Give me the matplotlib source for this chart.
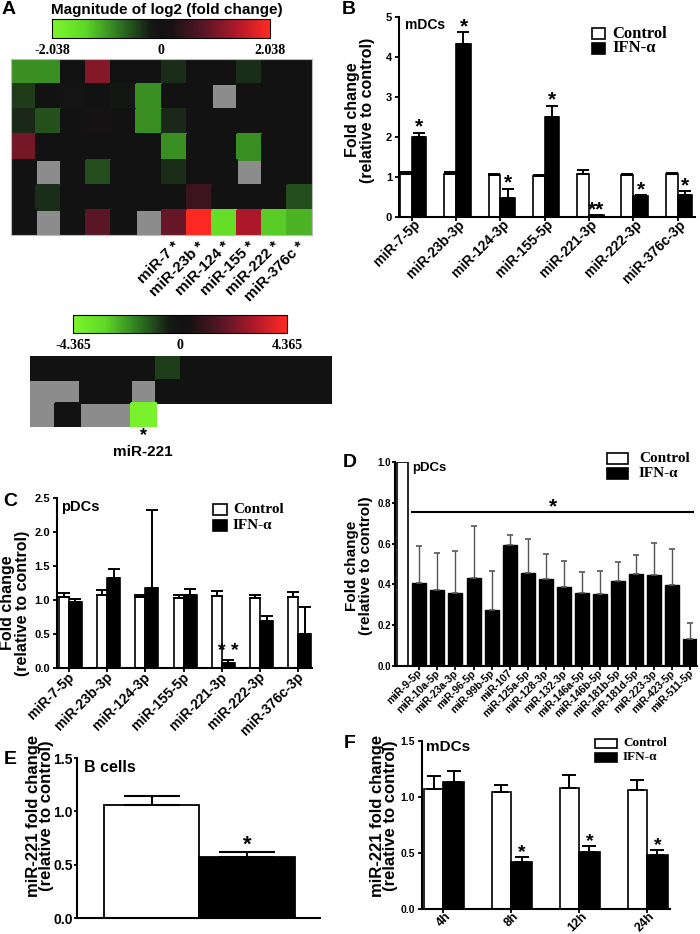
import numpy as np
import matplotlib
matplotlib.use('Agg')
import matplotlib.pyplot as plt
from matplotlib.colors import LinearSegmentedColormap, ListedColormap, Normalize
from matplotlib.cm import ScalarMappable
from matplotlib.patches import Rectangle
from matplotlib.transforms import ScaledTranslation

plt.rcParams['font.family'] = 'Liberation Sans'
plt.rcParams['font.weight'] = 'bold'
plt.rcParams['axes.linewidth'] = 1.5

W, H = 700, 934
nan = np.nan

# ---- panel A: heatmaps of log2 fold change (nan = no data, grey cell) ----
heat_mdc = [
    [-0.94, -0.94, 0.0, 1.1, 0.0, 0.0, -0.33, 0.0, 0.0, -0.33, 0.0, 0.0],
    [-0.4, 0.0, -0.05, 0.0, -0.1, -0.94, 0.0, 0.0, nan, 0.0, 0.0, 0.0],
    [-0.3, -0.55, 0.0, 0.12, 0.0, -0.94, -0.3, 0.0, 0.0, 0.0, 0.0, 0.0],
    [1.0, 0.0, 0.0, 0.0, 0.0, 0.0, -0.94, 0.0, 0.0, -0.94, 0.0, 0.0],
    [0.0, nan, 0.0, -0.53, 0.0, 0.0, -0.33, 0.0, 0.0, nan, 0.0, 0.0],
    [0.0, -0.33, 0.0, 0.0, 0.0, 0.0, 0.0, 0.53, 0.0, 0.0, 0.0, -0.53],
    [0.0, nan, 0.0, 0.82, 0.0, nan, 0.9, 2.0, -1.55, 1.39, -1.35, -1.18],
]
heat_mdc_range = 2.038
heat_mdc_cols = [6, 7, 8, 9, 10, 11]
heat_mdc_labels = ['miR-7 *', 'miR-23b *', 'miR-124 *', 'miR-155 *', 'miR-222 *', 'miR-376c *']

heat_pdc = [
    [0.0, 0.0, 0.0, 0.0, 0.0, -0.9, 0.0, 0.0, 0.0, 0.0, 0.0, 0.0],
    [nan, nan, 0.0, 0.0, nan, 0.0, 0.0, 0.0, 0.0, 0.0, 0.0, 0.0],
    [nan, 0.0, nan, nan, -4.2],
]
heat_pdc_range = 4.365
heat_pdc_col = 4
heat_pdc_label = 'miR-221'

legend_labels = ['Control', 'IFN-α']

# ---- panel B: mDCs ----
mirs = ['miR-7-5p', 'miR-23b-3p', 'miR-124-3p', 'miR-155-5p',
        'miR-221-3p', 'miR-222-3p', 'miR-376c-3p']
b_ctrl = [1.07, 1.07, 1.05, 1.03, 1.08, 1.04, 1.07]
b_ctrl_err = [0.05, 0.05, 0.03, 0.02, 0.1, 0.03, 0.04]
b_ifn = [2.0, 4.33, 0.48, 2.49, 0.04, 0.52, 0.56]
b_ifn_err = [0.11, 0.29, 0.23, 0.29, 0.01, 0.03, 0.08]
b_marks = ['*', '*', '*', '*', '**', '*', '*']

# ---- panel C: pDCs ----
c_ctrl = [1.05, 1.07, 1.04, 1.03, 1.06, 1.03, 1.05]
c_ctrl_err = [0.05, 0.08, 0.04, 0.04, 0.07, 0.04, 0.07]
c_ifn = [0.97, 1.32, 1.18, 1.08, 0.07, 0.69, 0.5]
c_ifn_err = [0.04, 0.14, 1.14, 0.08, 0.05, 0.07, 0.4]
c_marks = ['', '', '', '', '* *', '', '']

# ---- panel D: pDCs, other miRNAs ----
d_mirs = ['miR-9-5p', 'miR-10a-5p', 'miR-23a-3p', 'miR-96-5p', 'miR-99b-5p',
          'miR-107', 'miR-125a-5p', 'miR-128-3p', 'miR-132-3p', 'miR-146a-5p',
          'miR-146b-5p', 'miR-181b-5p', 'miR-181d-5p', 'miR-223-3p',
          'miR-423-5p', 'miR-511-5p']
d_ctrl = 1.0
d_ifn = [0.408, 0.374, 0.356, 0.433, 0.273, 0.592, 0.456, 0.426,
         0.389, 0.358, 0.351, 0.418, 0.449, 0.444, 0.397, 0.132]
d_ifn_err = [0.182, 0.182, 0.209, 0.252, 0.194, 0.05, 0.167, 0.121,
             0.127, 0.101, 0.116, 0.092, 0.095, 0.159, 0.175, 0.08]
d_sig_level = 0.755

# ---- panel E: B cells ----
e_vals = [1.06, 0.57]
e_err = [0.08, 0.05]
e_marks = ['', '*']

# ---- panel F: mDCs time course ----
f_times = ['4h', '8h', '12h', '24h']
f_ctrl = [1.07, 1.045, 1.08, 1.06]
f_ctrl_err = [0.12, 0.065, 0.12, 0.09]
f_ifn = [1.13, 0.42, 0.51, 0.48]
f_ifn_err = [0.1, 0.04, 0.05, 0.05]
f_marks = ['', '*', '*', '*']

fig = plt.figure(figsize=(W / 100, H / 100), dpi=100)

cmap = LinearSegmentedColormap.from_list('gkr', [
    (0.0, '#7cf52c'), (0.15, '#5fd826'), (0.3, '#2f7a22'), (0.45, '#151a15'),
    (0.5, '#121212'), (0.55, '#191214'), (0.7, '#5a1626'), (0.85, '#b0182a'),
    (1.0, '#ff2a22')])


def px_axes(x0, y0, x1, y1):
    return fig.add_axes([x0 / W, 1 - y1 / H, (x1 - x0) / W, (y1 - y0) / H])


def ftext(x, y, s, **kw):
    return fig.text(x / W, 1 - y / H, s, **kw)


def ylabel(x, y, s, fs, ls):
    ftext(x, y, s, fontsize=fs, rotation=90, ha='center', va='center',
          multialignment='center', linespacing=ls)


def heatmap(ax, rows, vmax):
    nrow, ncol = len(rows), max(len(r) for r in rows)
    vals = np.full((nrow, ncol), np.nan)
    present = np.zeros((nrow, ncol), bool)
    for i, r in enumerate(rows):
        vals[i, :len(r)] = r
        present[i, :len(r)] = True
    missing = np.ma.masked_where(~(present & np.isnan(vals)), np.ones_like(vals))
    ax.pcolormesh(missing, cmap=ListedColormap(['#8c8c8c']), vmin=0, vmax=1,
                  edgecolors='face', linewidth=0.3)
    ax.pcolormesh(np.ma.masked_invalid(vals), cmap=cmap, vmin=-vmax, vmax=vmax,
                  edgecolors='face', linewidth=0.3)
    ax.set_xlim(0, ncol)
    ax.set_ylim(nrow, 0)
    ax.axis('off')


def colorbar(cax, vmax):
    cb = fig.colorbar(ScalarMappable(Normalize(-vmax, vmax), cmap), cax=cax,
                      orientation='horizontal')
    cb.set_ticks([-vmax, 0, vmax])
    cb.set_ticklabels([f'-{vmax:.3f}', '0', f'{vmax:.3f}'])
    cax.tick_params(length=0, pad=4, labelsize=10)
    for t in cax.get_xticklabels():
        t.set_family('Liberation Serif')
        t.set_weight('bold')
    cb.outline.set_linewidth(0.8)


def paired_bars(ax, ctrl, ctrl_err, ifn, ifn_err, wc, wi, capsize, lw=1.2):
    x = np.arange(len(ctrl))
    ek = dict(elinewidth=1.4, capthick=1.4, ecolor='black')
    ax.bar(x - wc / 2, ctrl, wc, yerr=[np.zeros(len(ctrl)), ctrl_err],
           color='white', edgecolor='black', linewidth=lw, capsize=capsize,
           error_kw=ek)
    ax.bar(x + wi / 2, ifn, wi, yerr=[np.zeros(len(ifn)), ifn_err],
           color='black', edgecolor='black', linewidth=lw, capsize=capsize,
           error_kw=ek)
    return x, x + wi / 2, np.array(ifn) + np.array(ifn_err)


def style(ax, yticks, fmt, fs):
    for s in ['top', 'right']:
        ax.spines[s].set_visible(False)
    ax.set_yticks(yticks)
    ax.set_yticklabels([fmt.format(v) for v in yticks], fontsize=fs,
                       fontweight='bold')
    ax.set_ylim(yticks[0], yticks[-1])
    ax.tick_params(width=1.3, length=3)
    ax.tick_params(axis='y', pad=2)


def xlabels(ax, ticks, labels, fs, dx, pad=1):
    ax.set_xticks(ticks)
    ax.set_xticklabels(labels, rotation=45, ha='right', va='center',
                       rotation_mode='anchor', fontsize=fs)
    ax.tick_params(axis='x', pad=pad)
    off = ScaledTranslation(dx / 100, 0, fig.dpi_scale_trans)
    for lab in ax.get_xticklabels():
        lab.set_transform(lab.get_transform() + off)


def stars(ax, xs, tops, marks, fs=15):
    for x, t, m in zip(xs, tops, marks):
        if m:
            ax.text(x, t, m, ha='center', va='baseline', fontsize=fs,
                    fontweight='bold')


def legend_box(x, y, w, h, gap, dy, fs):
    for k, (lab, fc) in enumerate(zip(legend_labels, ['white', 'black'])):
        top = y + k * dy
        fig.add_artist(Rectangle((x / W, 1 - (top + h) / H), w / W, h / H,
                                 transform=fig.transFigure, fc=fc, ec='black',
                                 lw=1.2))
        ftext(x + w + gap, top + h / 2, lab, ha='left', va='center',
              fontsize=fs, family='Liberation Serif', fontweight='bold')


# ---------- A ----------
ftext(9, 10, 'A', fontsize=14, ha='center', va='center')
ftext(167, 10, 'Magnitude of log2 (fold change)', fontsize=11, ha='center',
      va='center')
colorbar(px_axes(52, 19, 270, 38), heat_mdc_range)
axh1 = px_axes(11, 59, 312, 235)
heatmap(axh1, heat_mdc, heat_mdc_range)
axh1.add_patch(Rectangle((0, 0), 12, len(heat_mdc), fill=False, ec='#bbbbbb',
                         lw=0.8, clip_on=False))
for j, lab in zip(heat_mdc_cols, heat_mdc_labels):
    axh1.text(j + 0.62, len(heat_mdc) + 0.35, lab, rotation=45, ha='right',
              va='center', rotation_mode='anchor', fontsize=11, clip_on=False)

colorbar(px_axes(73, 315, 287, 333), heat_pdc_range)
axh2 = px_axes(30, 356, 332, 427)
heatmap(axh2, heat_pdc, heat_pdc_range)
axh2.text(heat_pdc_col + 0.5, len(heat_pdc) + 0.55, '*', ha='center',
          va='baseline', fontsize=13, clip_on=False)
axh2.text(heat_pdc_col + 0.5, len(heat_pdc) + 1.05, heat_pdc_label,
          ha='center', va='center', fontsize=11, clip_on=False)

# ---------- B ----------
axB = px_axes(399, 17, 695, 217)
x, xi, tops = paired_bars(axB, b_ctrl, b_ctrl_err, b_ifn, b_ifn_err,
                          0.27, 0.33, 4)
style(axB, [0, 1, 2, 3, 4, 5], '{:.0f}', 8)
axB.set_xlim(-0.29, 6.39)
xlabels(axB, x, mirs, 10, 6)
stars(axB, xi, tops, b_marks)
ftext(349, 10, 'B', fontsize=14, ha='center', va='center')
ftext(405, 25, 'mDCs', fontsize=10, ha='left', va='center')
ylabel(360, 110, 'Fold change\n(relative to control)', 11.5, 0.95)
legend_box(592, 28, 13, 11, 7, 15, 12)

# ---------- C ----------
axC = px_axes(57, 498, 312, 668)
x, xi, tops = paired_bars(axC, c_ctrl, c_ctrl_err, c_ifn, c_ifn_err,
                          0.26, 0.34, 4)
style(axC, [0, 0.5, 1.0, 1.5, 2.0, 2.5], '{:.1f}', 8)
axC.set_xlim(-0.31, 6.36)
xlabels(axC, x, mirs, 10, 3, pad=2)
stars(axC, xi, tops + 0.05, c_marks, fs=14)
ftext(10, 502, 'C', fontsize=14, ha='center', va='center')
ftext(61, 507, 'pDCs', fontsize=10.5, ha='left', va='center')
ylabel(15, 603, 'Fold change\n(relative to control)', 11.5, 0.95)
legend_box(213, 504, 14, 11, 6, 16, 11)

# ---------- D ----------
axD = px_axes(395, 462, 697, 666)
xd = np.arange(1, len(d_ifn) + 1)
axD.bar([0.07], [d_ctrl], 0.61, color='white', edgecolor='black', linewidth=1.2)
axD.bar(xd, d_ifn, 0.775, yerr=[np.zeros(len(d_ifn)), d_ifn_err],
        color='black', edgecolor='black', linewidth=1.0, capsize=2.5,
        error_kw=dict(elinewidth=1.0, capthick=1.2, ecolor='#555555'))
style(axD, [0, 0.2, 0.4, 0.6, 0.8, 1.0], '{:.1f}', 7)
axD.tick_params(axis='y', length=2, pad=1)
axD.set_xlim(-0.345, 16.37)
xlabels(axD, xd, d_mirs, 7.5, 1)
axD.plot([xd[0] - 0.39, xd[-1] + 0.15], [d_sig_level, d_sig_level],
         color='black', lw=1.5)
axD.text((xd[0] - 0.39 + xd[-1] + 0.15) / 2, d_sig_level, '*', ha='center',
         va='baseline', fontsize=15)
ftext(350, 463, 'D', fontsize=14, ha='center', va='center')
ftext(412, 468, 'pDCs', fontsize=9.5, ha='left', va='center')
ylabel(359, 566, 'Fold change\n(relative to control)', 11, 0.92)
legend_box(607, 453, 21, 11, 11, 15, 11)

# ---------- E ----------
axE = px_axes(77, 758, 320, 918)
xe = np.arange(len(e_vals))
axE.bar(xe, e_vals, 1.0, yerr=[np.zeros(len(e_vals)), e_err],
        color=['white', 'black'], edgecolor='black', linewidth=1.3,
        capsize=20, error_kw=dict(elinewidth=1.5, capthick=1.5, ecolor='black'))
style(axE, [0, 0.5, 1.0, 1.5], '{:.1f}', 10)
axE.tick_params(axis='y', length=2, pad=1)
axE.set_xlim(-0.78, 1.764)
axE.set_xticks([])
stars(axE, xe, np.array(e_vals) + np.array(e_err) + 0.01, e_marks, fs=16)
ftext(10, 760, 'E', fontsize=14, ha='center', va='center')
ftext(84, 767, 'B cells', fontsize=11.5, ha='left', va='center')
ylabel(40, 816, 'miR-221 fold change\n(relative to control)', 12, 0.88)

# ---------- F ----------
axF = px_axes(422, 741, 670, 909)
x, xi, tops = paired_bars(axF, f_ctrl, f_ctrl_err, f_ifn, f_ifn_err,
                          0.28, 0.31, 5)
style(axF, [0, 0.5, 1.0, 1.5], '{:.1f}', 7.5)
axF.set_xlim(-0.31, 3.34)
xlabels(axF, x, f_times, 9, 6)
stars(axF, xi, tops, f_marks, fs=14)
ftext(350, 744, 'F', fontsize=14, ha='center', va='center')
ftext(426, 747, 'mDCs', fontsize=11, ha='left', va='center')
ylabel(384, 816, 'miR-221 fold change\n(relative to control)', 12, 0.88)
legend_box(595, 739, 22, 9, 6, 14, 9.5)

fig.savefig('out.png', dpi=100)
